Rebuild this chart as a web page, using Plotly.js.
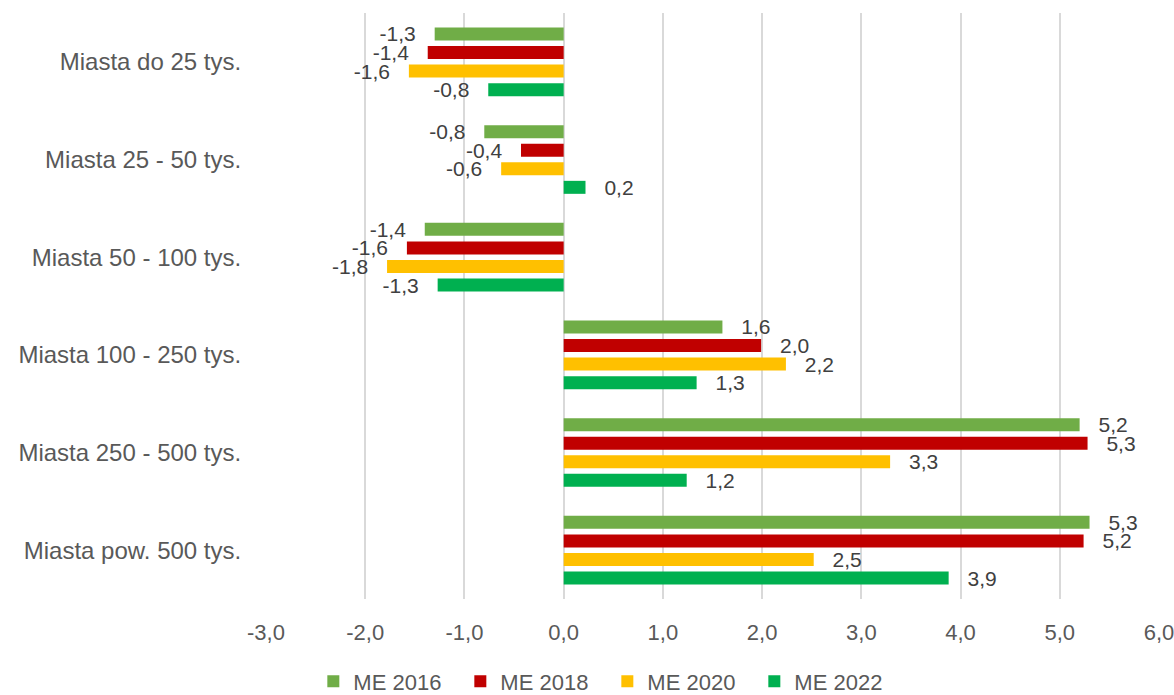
<!DOCTYPE html>
<html>
<head>
<meta charset="utf-8">
<script src="https://cdn.plot.ly/plotly-3.0.1.min.js"></script>
<style>html,body{margin:0;padding:0;background:#fff;}#chart{width:1174px;height:695px;}</style>
</head>
<body>
<div id="chart"></div>
<script>
const categories = ["Miasta do 25 tys.", "Miasta 25 - 50 tys.", "Miasta 50 - 100 tys.", "Miasta 100 - 250 tys.", "Miasta 250 - 500 tys.", "Miasta pow. 500 tys."];
const seriesNames = ["ME 2016", "ME 2018", "ME 2020", "ME 2022"];
const me2016 = [-1.30, -0.80, -1.40, 1.60, 5.20, 5.30];
const me2018 = [-1.37, -0.43, -1.58, 1.99, 5.28, 5.24];
const me2020 = [-1.56, -0.63, -1.78, 2.24, 3.29, 2.52];
const me2022 = [-0.76, 0.22, -1.27, 1.34, 1.24, 3.88];
const tickValues = [-3, -2, -1, 0, 1, 2, 3, 4, 5, 6];

const colors = ["#70AD47", "#C00000", "#FFC000", "#00B050"];
const FONT = "Liberation Sans, Arial, sans-serif";
const fmt = v => v.toFixed(1).replace('.', ',');
const PAD = "\u00a0\u00a0\u2009";
const labelText = v => v < 0 ? fmt(v) + PAD : PAD + fmt(v);

const seriesValues = [me2016, me2018, me2020, me2022];
const traces = seriesValues.map((vals, i) => ({
  type: 'bar',
  orientation: 'h',
  name: seriesNames[i],
  y: categories,
  x: vals,
  text: vals.map(labelText),
  textposition: 'outside',
  constraintext: 'none',
  cliponaxis: false,
  textfont: {family: FONT, size: 21, color: '#404040'},
  marker: {color: colors[i]},
  hoverinfo: 'x+name'
}));

const layout = {
  width: 1174,
  height: 695,
  margin: {l: 266, r: 15, t: 13, b: 96, autoexpand: false},
  paper_bgcolor: '#ffffff',
  plot_bgcolor: '#ffffff',
  barmode: 'group',
  bargap: 0.24,
  bargroupgap: 0.3,
  font: {family: FONT, color: '#595959'},
  xaxis: {
    range: [-3, 6],
    tickvals: tickValues,
    ticktext: tickValues.map(fmt),
    tickangle: 0,
    automargin: false,
    showgrid: true,
    gridcolor: '#d9d9d9',
    gridwidth: 1.5,
    zeroline: false,
    showline: false,
    ticks: 'outside',
    ticklen: 14,
    tickcolor: 'rgba(0,0,0,0)',
    ticklabeloverflow: 'allow',
    tickfont: {family: FONT, size: 22, color: '#595959'}
  },
  yaxis: {
    autorange: 'reversed',
    automargin: false,
    showgrid: false,
    zeroline: false,
    showline: false,
    ticks: 'outside',
    ticklen: 19,
    tickcolor: 'rgba(0,0,0,0)',
    tickfont: {family: FONT, size: 24, color: '#595959'}
  },
  showlegend: true,
  legend: {
    orientation: 'h',
    xref: 'paper',
    x: 0.053,
    xanchor: 'left',
    yref: 'paper',
    y: -0.105,
    yanchor: 'top',
    entrywidth: 102,
    entrywidthmode: 'pixels',
    font: {family: FONT, size: 22, color: '#595959'},
    itemwidth: 30,
    traceorder: 'normal'
  }
};

Plotly.newPlot('chart', traces, layout, {displayModeBar: false, responsive: false});
</script>
</body>
</html>
